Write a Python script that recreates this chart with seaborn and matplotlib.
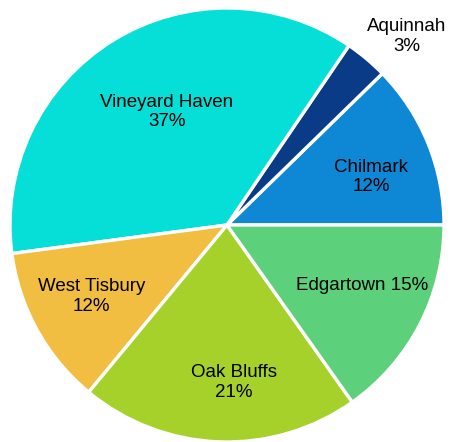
import numpy as np
import matplotlib.pyplot as plt
import seaborn as sns

towns = ["Chilmark", "Aquinnah", "Vineyard Haven", "West Tisbury", "Oak Bluffs", "Edgartown"]
shares = [12.3, 3.2, 36.6, 11.9, 20.8, 15.2]
colors = ["#0E87D4", "#0A3B87", "#05DFD7", "#F2BE41", "#A6D12B", "#5CD07B"]

sns.set_style("white")
plt.rcParams['font.family'] = ['Liberation Sans', 'DejaVu Sans']

fig = plt.figure(figsize=(4.51, 4.42), dpi=100)
# pie centre ~ (227, 225) px, radius ~217 px
r_px = 217
ax = fig.add_axes([(227 - r_px) / 451, (442 - 225 - r_px) / 442, 2 * r_px / 451, 2 * r_px / 442])

wedges, _ = ax.pie(
    shares,
    colors=colors,
    startangle=0,
    counterclock=True,
    radius=1,
    wedgeprops=dict(edgecolor="white", linewidth=2.4),
)
ax.set_xlim(-1, 1)
ax.set_ylim(-1, 1)
ax.set_aspect("equal")
ax.axis("off")

# label placement (radius, angle in degrees) tuned to the original
label_pos = {"Chilmark": (0.70, 18.4), "Aquinnah": (1.2, 46.3),
             "Vineyard Haven": (0.59, 118.1), "West Tisbury": (0.705, 207.9),
             "Oak Bluffs": (0.727, -87.5), "Edgartown": (0.68, -24)}
for name, val in zip(towns, shares):
    r, a = label_pos[name]
    ang = np.deg2rad(a)
    if name == "Edgartown":
        txt = f"{name} {round(val)}%"
    else:
        txt = f"{name}\n{round(val)}%"
    ax.text(r * np.cos(ang), r * np.sin(ang), txt, ha="center", va="center",
            fontsize=13.5, color="black", linespacing=1.2, clip_on=False)

fig.savefig("out.png", dpi=100)
plt.close(fig)
